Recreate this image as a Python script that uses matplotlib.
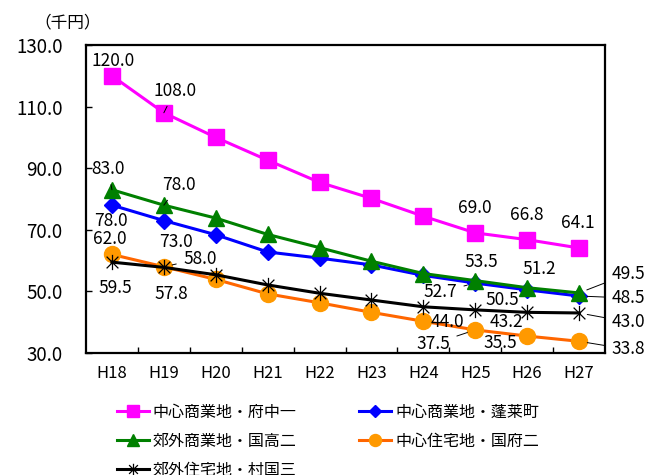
import matplotlib
matplotlib.use("Agg")
import matplotlib.pyplot as plt
from matplotlib.path import Path

plt.rcParams['font.family'] = ['Noto Sans CJK JP', 'DejaVu Sans']

# data (千円)
years = ['H18', 'H19', 'H20', 'H21', 'H22', 'H23', 'H24', 'H25', 'H26', 'H27']
fuchu1 = [120.0, 108.0, 100.0, 92.6, 85.4, 80.2, 74.4, 69.0, 66.8, 64.1]
horai = [78.0, 73.0, 68.4, 62.8, 60.8, 58.6, 55.2, 52.7, 50.5, 48.5]
kokuko2 = [83.0, 78.0, 73.8, 68.5, 64.2, 59.8, 55.8, 53.5, 51.2, 49.5]
kokufu2 = [62.0, 58.0, 53.9, 49.2, 46.3, 43.2, 40.3, 37.5, 35.5, 33.8]
muraguni3 = [59.5, 57.8, 55.4, 52.1, 49.4, 47.2, 45.0, 44.0, 43.2, 43.0]

names = ['中心商業地・府中一', '中心商業地・蓬莱町', '郊外商業地・国高二',
         '中心住宅地・国府二', '郊外住宅地・村国三']

# Excel style "*" marker: X with a vertical bar
star = Path([(-1, -1), (1, 1), (-1, 1), (1, -1), (0, -1.3), (0, 1.3)],
            [Path.MOVETO, Path.LINETO, Path.MOVETO, Path.LINETO, Path.MOVETO, Path.LINETO])

fig = plt.figure(figsize=(6.57, 4.75), dpi=100)
ax = fig.add_axes([86 / 657, 1 - 353 / 475, 519 / 657, 308 / 475])

x = range(len(years))
l1, = ax.plot(x, fuchu1, color='#FF00FF', lw=2.2, marker='s', ms=11, zorder=3)
l2, = ax.plot(x, horai, color='#0000FF', lw=2.2, marker='D', ms=8, zorder=3)
l3, = ax.plot(x, kokuko2, color='#008000', lw=2.2, marker='^', ms=11, zorder=4)
l4, = ax.plot(x, kokufu2, color='#FF6600', lw=2.2, marker='o', ms=11.5,
              mfc='#FF9900', mec='#FF9900', zorder=3)
l5, = ax.plot(x, muraguni3, color='black', lw=2.2, marker=star, ms=11,
              mfc='none', mec='black', mew=0.9, zorder=5)

# data labels: (series, index, dx px, dy px, leader)
labels = [
    (fuchu1, 0, 1, 15, False), (fuchu1, 1, 11, 22, True), (fuchu1, 7, 0, 25, False),
    (fuchu1, 8, 0, 25, False), (fuchu1, 9, -1, 25, False),
    (kokuko2, 0, -4, 21, True), (kokuko2, 1, 15, 20, True), (kokuko2, 7, 6, 19, False),
    (kokuko2, 8, 12, 19, False), (kokuko2, 9, 49, 19, True),
    (horai, 0, -1, -16, False), (horai, 1, 12, -21, False), (horai, 7, -35, -9, True),
    (horai, 8, -25, -10, False), (horai, 9, 49, -2, True),
    (kokufu2, 0, -2, 15, False), (kokufu2, 1, 36, 8, True), (kokufu2, 7, -42, -14, True),
    (kokufu2, 8, -27, -7, False), (kokufu2, 9, 49, -8, True),
    (muraguni3, 0, 3, -26, False), (muraguni3, 1, 7, -27, False), (muraguni3, 7, -28, -12, False),
    (muraguni3, 8, -21, -10, False), (muraguni3, 9, 49, -9, True),
]
for s, i, dx, dy, leader in labels:
    arrow = dict(arrowstyle='-', lw=0.7, color='black', shrinkA=3, shrinkB=6) if leader else None
    ax.annotate(f'{s[i]:.1f}', xy=(i, s[i]), xytext=(dx, dy), textcoords='offset pixels',
                ha='center', va='center', fontsize=12.5, arrowprops=arrow,
                annotation_clip=False, zorder=6)

ax.set_xlim(-0.5, 9.5)
ax.set_ylim(30, 130)
ax.set_yticks(range(30, 131, 20))
ax.set_yticklabels([f'{v:.1f}' for v in range(30, 131, 20)], fontsize=13.5)
ax.set_xticks(list(x))
ax.set_xticklabels(years, fontsize=12)
ax.set_xticks([i + 0.5 for i in range(9)], minor=True)
ax.tick_params(axis='x', which='major', length=0, pad=9)
ax.tick_params(axis='x', which='minor', direction='in', length=4, width=1)
ax.tick_params(axis='y', direction='in', length=4, width=1, pad=17)
for sp in ax.spines.values():
    sp.set_linewidth(1.6)

fig.text(68 / 657, 1 - 23 / 475, '（千円）', ha='center', va='center', fontsize=12)

fig.legend([l1, l3, l5, l2, l4], [names[0], names[2], names[4], names[1], names[3]],
           ncol=2, frameon=False, loc='upper left', bbox_to_anchor=(117 / 657, 1 - 404 / 475),
           fontsize=11.5, handlelength=2.0, handletextpad=0.25, columnspacing=3.9,
           labelspacing=0.75, borderpad=0, borderaxespad=0, markerscale=0.75)

fig.savefig('out.png', dpi=100)
